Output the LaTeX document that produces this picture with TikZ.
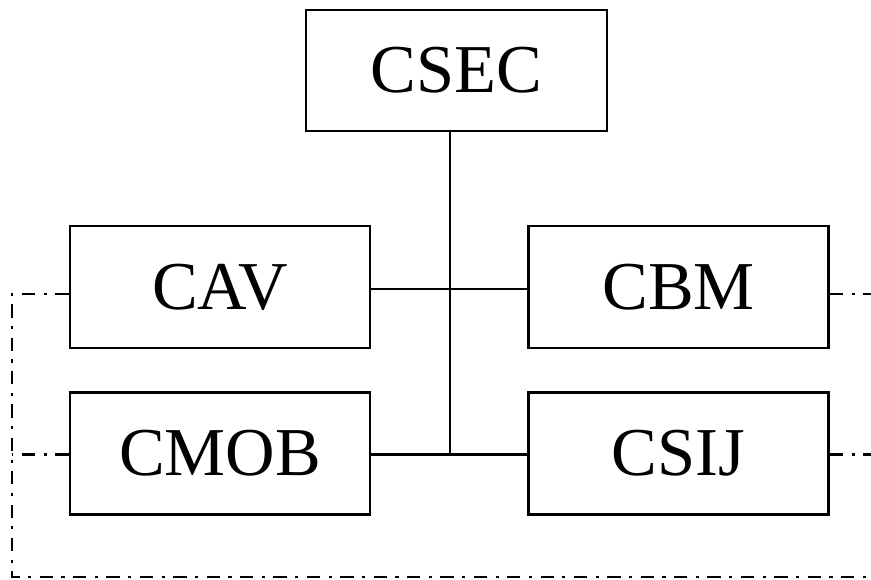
\documentclass[tikz,border=0pt]{standalone}
\usepackage{fontspec}
\setmainfont{Liberation Serif}

\tikzset{
  unitbox/.style={draw, line width=1.6pt, inner sep=0pt, minimum width=6cm, minimum height=2.44cm,
    font=\fontsize{39}{42}\selectfont},
  link/.style={line width=1.5pt},
  dashdot/.style={line width=1.3pt, dash pattern=on 7.6pt off 4.8pt on 1.8pt off 4.8pt}
}

\begin{document}
\begin{tikzpicture}
\useasboundingbox (0,0) rectangle (17.42,-11.58);

\path (9.13,-1.41) node (CSEC) [unitbox, minimum width=6.02cm, minimum height=2.42cm] {CSEC};
\path (4.4,-5.74) node (CAV) [unitbox] {CAV};
\path (13.57,-5.74) node (CBM) [unitbox] {CBM};
\path (4.4,-9.07) node (CMOB) [unitbox] {CMOB};
\path (13.57,-9.07) node (CSIJ) [unitbox] {CSIJ};

\coordinate (trunk) at (9,0);
\coordinate (farleft) at (0.24,-11.54);
\coordinate (farright) at (17.8,-11.54);

\draw[link] (CSEC.south -| trunk) -- ([yshift=-0.02cm]CMOB.east -| trunk);
\draw[link] ([yshift=-0.04cm]CAV.east) -- ([yshift=-0.04cm]CBM.west);
\draw[link] ([yshift=-0.02cm]CMOB.east) -- ([yshift=-0.02cm]CSIJ.west);

\draw[dashdot] ([yshift=-0.14cm]CAV.west) -| (farleft) -- (farright);
\draw[dashdot] ([yshift=-0.02cm]CMOB.west) -- ([yshift=-0.02cm]CMOB.west -| farleft);
\draw[dashdot] ([yshift=-0.14cm]CBM.east) -- ([yshift=-0.14cm]CBM.east -| farright);
\draw[dashdot] ([yshift=-0.02cm]CSIJ.east) -- ([yshift=-0.02cm]CSIJ.east -| farright);
\end{tikzpicture}
\end{document}
